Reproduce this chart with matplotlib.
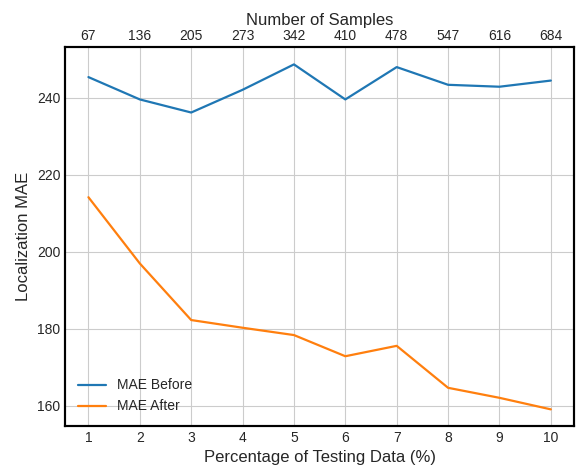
import matplotlib
matplotlib.use("Agg")
import matplotlib.pyplot as plt
import seaborn as sns

sns.set_style("whitegrid")
plt.rcParams['font.family'] = ['Liberation Sans', 'DejaVu Sans']

pct = [1, 2, 3, 4, 5, 6, 7, 8, 9, 10]
samples = [67, 136, 205, 273, 342, 410, 478, 547, 616, 684]
mae_before = [245.4, 239.6, 236.2, 242.1, 248.7, 239.6, 248.0, 243.4, 242.9, 244.5]
mae_after = [214.2, 197.0, 182.3, 180.3, 178.4, 172.9, 175.6, 164.7, 162.1, 159.1]

fig, ax = plt.subplots(figsize=(5.78, 4.66), dpi=100)
ax.plot(pct, mae_before, color='#1f77b4', lw=1.6, label='MAE Before')
ax.plot(pct, mae_after, color='#ff7f0e', lw=1.6, label='MAE After')
ax.set_xticks(pct)
ax.set_yticks([160, 180, 200, 220, 240])
ax.set_ylim(154.8, 253.2)
ax.set_xlabel('Percentage of Testing Data (%)', fontsize=12)
ax.set_ylabel('Localization MAE', fontsize=12)
ax.tick_params(labelsize=10, length=0)
ax.legend(loc='lower left', frameon=False, fontsize=10, bbox_to_anchor=(0.0, 0.0))
for s in ax.spines.values():
    s.set_color('black')
    s.set_linewidth(1.5)

ax2 = ax.twiny()
ax2.set_xlim(ax.get_xlim())
ax2.set_xticks(pct)
ax2.set_xticklabels([str(s) for s in samples])
ax2.set_xlabel('Number of Samples', fontsize=12, labelpad=3)
ax2.tick_params(labelsize=10, length=0, pad=3)
ax2.grid(False)
for s in ax2.spines.values():
    s.set_color('black')
    s.set_linewidth(1.5)

fig.subplots_adjust(left=0.113, right=0.993, top=0.899, bottom=0.086)
fig.savefig('out.png', dpi=100)
